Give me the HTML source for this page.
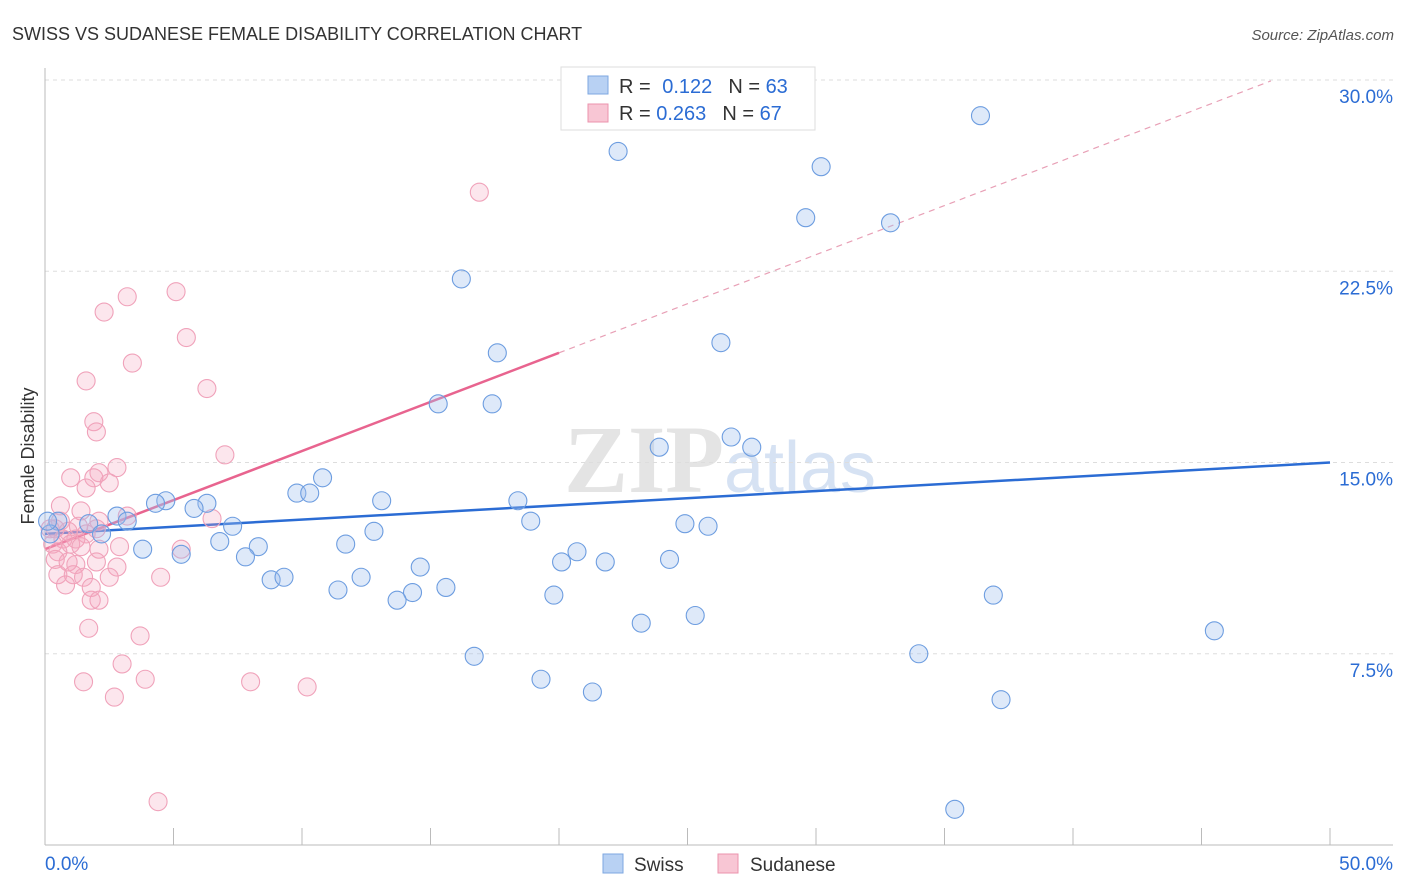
<!DOCTYPE html>
<html><head><meta charset="utf-8"><style>
body{margin:0;background:#fff;font-family:"Liberation Sans",sans-serif}
svg{display:block}
</style></head><body>
<svg id="chart" width="1406" height="892">
<text x="12" y="40" font-size="18" fill="#333">SWISS VS SUDANESE FEMALE DISABILITY CORRELATION CHART</text>
<text x="1394" y="40" font-size="15" fill="#555" font-style="italic" text-anchor="end">Source: ZipAtlas.com</text>
<text x="720" y="492" font-size="96" fill="#e4e4e4" text-anchor="middle" font-family="Liberation Serif,serif" font-weight="bold">ZIP<tspan fill="#d6e2f3" font-family="Liberation Sans,sans-serif" font-weight="normal" font-size="72">atlas</tspan></text>
<g id="grid"></g>
<g id="axes"></g>
<g id="lines"></g>
<g id="pts"></g>
<text transform="translate(34,456) rotate(-90)" font-size="18" fill="#333" text-anchor="middle">Female Disability</text>
<g>
<rect x="561" y="67" width="254" height="63" fill="#fff" stroke="#ddd"/>
<rect x="588" y="76" width="20" height="18" fill="#b8d1f3" stroke="#7ea7e0"/>
<rect x="588" y="104" width="20" height="18" fill="#f8c6d4" stroke="#eb93ad"/>
<text x="619" y="93" font-size="20" fill="#333">R = <tspan fill="#2b6cd4" dx="6">0.122</tspan><tspan dx="16">N = </tspan><tspan fill="#2b6cd4">63</tspan></text>
<text x="619" y="120" font-size="20" fill="#333">R = <tspan fill="#2b6cd4">0.263</tspan><tspan dx="16">N = </tspan><tspan fill="#2b6cd4">67</tspan></text>
</g>
<g>
<rect x="603" y="854" width="20" height="19" fill="#b8d1f3" stroke="#7ea7e0"/>
<text x="634" y="871" font-size="19" fill="#333">Swiss</text>
<rect x="718" y="854" width="20" height="19" fill="#f8c6d4" stroke="#eb93ad"/>
<text x="750" y="871" font-size="19" fill="#333">Sudanese</text>
</g>
</svg>
<script>
const swissX=[36.4,22.3,30.2,29.6,32.9,16.2,17.6,26.3,15.3,17.4,26.7,23.9,27.5,10.8,9.8,10.3,4.7,4.3,6.3,13.1,18.4,5.8,2.8,3.2,18.9,24.9,25.8,1.7,0.5,7.3,12.8,2.2,6.8,8.3,3.8,11.7,5.3,20.7,7.8,20.1,21.8,24.3,14.6,8.8,9.3,12.3,15.6,11.4,14.3,19.8,36.9,13.7,25.3,23.2,45.5,34.0,16.7,19.3,21.3,37.2,35.4,0.2,0.1];
const swissY=[28.6,27.2,26.6,24.6,24.4,22.2,19.3,19.7,17.3,17.3,16.0,15.6,15.6,14.4,13.8,13.8,13.5,13.4,13.4,13.5,13.5,13.2,12.9,12.7,12.7,12.6,12.5,12.6,12.7,12.5,12.3,12.2,11.9,11.7,11.6,11.8,11.4,11.5,11.3,11.1,11.1,11.2,10.9,10.4,10.5,10.5,10.1,10.0,9.9,9.8,9.8,9.6,9.0,8.7,8.4,7.5,7.4,6.5,6.0,5.7,1.4,12.2,12.7];
const sudX=[16.9,5.1,3.2,2.3,5.5,3.4,1.6,6.3,1.9,2.0,7.0,2.8,2.1,1.0,1.9,2.5,1.6,0.6,3.2,1.4,6.5,2.1,0.6,1.3,2.0,0.4,0.9,0.2,1.6,1.2,0.7,0.3,1.0,1.4,2.9,5.3,0.5,2.1,0.4,0.9,2.0,1.2,2.8,0.5,1.1,1.5,2.5,4.5,0.8,1.8,1.8,2.1,1.7,3.7,3.0,3.9,1.5,8.0,10.2,2.7,4.4];
const sudY=[25.6,21.7,21.5,20.9,19.9,18.9,18.2,17.9,16.6,16.2,15.3,14.8,14.6,14.4,14.4,14.2,14.0,13.3,12.9,13.1,12.8,12.7,12.7,12.5,12.4,12.4,12.3,12.4,12.2,12.0,12.0,11.8,11.8,11.7,11.7,11.6,11.5,11.6,11.2,11.1,11.1,11.0,10.9,10.6,10.6,10.5,10.5,10.5,10.2,10.1,9.6,9.6,8.5,8.2,7.1,6.5,6.4,6.4,6.2,5.8,1.7];
const swissTrend=[12.2,15.0];      // y at x=0 and x=50
const sudTrend=[11.6,0.385];       // intercept, slope
const yTicks=[7.5,15,22.5,30];
const xTicks=[0,5,10,15,20,25,30,35,40,45,50];
const NS='http://www.w3.org/2000/svg';
const X=v=>45+v*25.7, Y=v=>845-v*25.5;
function mk(p,t,a){const e=document.createElementNS(NS,t);for(const k in a)e.setAttribute(k,a[k]);p.appendChild(e);return e;}
const grid=document.getElementById('grid'),axes=document.getElementById('axes'),lines=document.getElementById('lines'),pts=document.getElementById('pts');
yTicks.forEach(t=>{
 const l=mk(grid,'line',{x1:45,x2:1393,y1:Y(t),y2:Y(t),stroke:'#ddd','stroke-dasharray':'4,4'});
 
 
 const tx=mk(axes,'text',{x:1393,y:Y(t)+23,'font-size':19,fill:'#2b6cd4','text-anchor':'end'});
 tx.textContent=t.toFixed(1)+'%';
 
 
});
mk(axes,'line',{x1:45,x2:45,y1:68,y2:845,stroke:'#bbb'});
mk(axes,'line',{x1:45,x2:1393,y1:845,y2:845,stroke:'#bbb'});
xTicks.forEach(t=>{
 const l=mk(axes,'line',{x1:X(t),x2:X(t),y1:828,y2:845,stroke:'#bbb'});
 
 
});
[[0,'start',45],[50,'end',1393]].forEach(([v,a,x])=>{
 const tx=mk(axes,'text',{x:x,y:870,'font-size':19,fill:'#2b6cd4','text-anchor':a});
 tx.textContent=v.toFixed(1)+'%';
 
 
});
function dots(xs,ys,fill,stroke,name){xs.forEach((x,i)=>{
 const c=mk(pts,'circle',{cx:X(x),cy:Y(ys[i]),r:9,fill:fill,stroke:stroke,'stroke-width':1.1});
 
 
});}
dots(sudX,sudY,'rgba(245,165,190,0.28)','#f0a2ba','sudanese-point');
dots(swissX,swissY,'rgba(160,192,238,0.35)','#6d9de0','swiss-point');
const bl=mk(lines,'line',{x1:X(0),y1:Y(swissTrend[0]),x2:X(50),y2:Y(swissTrend[1]),stroke:'#2b6cd4','stroke-width':2.5});


const pl=mk(lines,'line',{x1:X(0),y1:Y(sudTrend[0]),x2:X(20),y2:Y(sudTrend[0]+20*sudTrend[1]),stroke:'#e8648f','stroke-width':2.5});


const pd=mk(lines,'line',{x1:X(20),y1:Y(sudTrend[0]+20*sudTrend[1]),x2:X(47.7),y2:Y(sudTrend[0]+47.7*sudTrend[1]),stroke:'#e8a0b6','stroke-width':1.2,'stroke-dasharray':'6,5'});


</script>
</body></html>
